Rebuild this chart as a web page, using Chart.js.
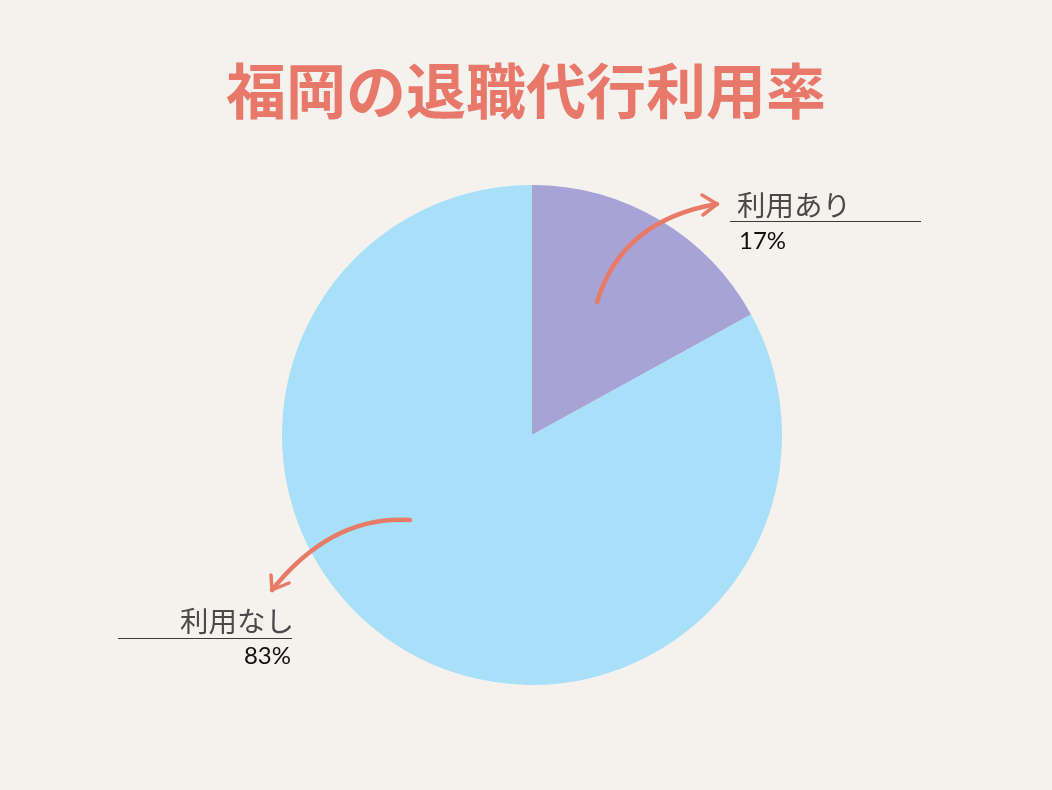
<!DOCTYPE html>
<html lang="ja">
<head>
<meta charset="utf-8">
<script src="https://cdn.jsdelivr.net/npm/chart.js@4"></script>
<style>
  html, body { margin: 0; padding: 0; background: #F5F2EE; }
  #wrap { width: 1052px; height: 790px; position: relative; }
</style>
</head>
<body>
<div id="wrap"><canvas id="c" width="1052" height="790"></canvas></div>
<script>
const titleText = '福岡の退職代行利用率';
const categories = ['利用あり', '利用なし'];
const values = [17, 83];
const valueLabels = ['17%', '83%'];
const colors = ['#A7A3D6', '#A8E0F9'];

const ARROW = '#E87B67';

function drawArrow(ctx, p0, c, p1, wings) {
  ctx.save();
  ctx.strokeStyle = ARROW;
  ctx.lineCap = 'round';
  ctx.lineJoin = 'round';
  ctx.lineWidth = 4.5;
  ctx.beginPath();
  ctx.moveTo(p0[0], p0[1]);
  ctx.quadraticCurveTo(c[0], c[1], p1[0], p1[1]);
  ctx.stroke();
  ctx.lineWidth = 3.5;
  wings.forEach(w => {
    ctx.beginPath();
    ctx.moveTo(p1[0], p1[1]);
    ctx.lineTo(w[0], w[1]);
    ctx.stroke();
  });
  ctx.restore();
}

const annotate = {
  id: 'annotate',
  afterDraw(chart) {
    const ctx = chart.ctx;
    const arc = chart.getDatasetMeta(0).data[0];
    const cx = arc.x, cy = arc.y, r = arc.outerRadius;
    // title
    ctx.save();
    ctx.fillStyle = '#E8796A';
    ctx.font = 'bold 60px "Noto Sans CJK JP"';
    ctx.textAlign = 'center';
    ctx.textBaseline = 'middle';
    ctx.fillText(titleText, cx - 6, cy - 344);
    ctx.restore();

    // arrows (relative to pie centre)
    drawArrow(ctx, [cx + 65, cy - 133], [cx + 90, cy - 215], [cx + 185, cy - 231],
      [[cx + 170, cy - 240], [cx + 171, cy - 220]]);
    drawArrow(ctx, [cx - 122, cy + 85], [cx - 200, cy + 80], [cx - 260, cy + 155],
      [[cx - 261, cy + 140], [cx - 243, cy + 148]]);

    // label lines
    ctx.save();
    ctx.strokeStyle = '#3a3a3a';
    ctx.lineWidth = 1;
    ctx.beginPath();
    ctx.moveTo(cx + 198, cy - 213.5); ctx.lineTo(cx + 389, cy - 213.5);
    ctx.moveTo(cx - 414, cy + 203.5); ctx.lineTo(cx - 240, cy + 203.5);
    ctx.stroke();
    ctx.restore();

    ctx.save();
    ctx.textBaseline = 'alphabetic';
    ctx.fillStyle = '#4a4a4a';
    ctx.font = '28.5px "Noto Sans CJK JP"';
    ctx.textAlign = 'left';
    ctx.fillText(categories[0], cx + 205, cy - 219);
    ctx.textAlign = 'right';
    ctx.fillText(categories[1], cx - 238, cy + 197);
    ctx.fillStyle = '#111';
    ctx.font = '24px Lato';
    ctx.textAlign = 'left';
    ctx.fillText(valueLabels[0], cx + 207, cy - 186);
    ctx.textAlign = 'right';
    ctx.fillText(valueLabels[1], cx - 241, cy + 229);
    ctx.restore();
  }
};

new Chart(document.getElementById('c'), {
  type: 'pie',
  data: {
    labels: categories,
    datasets: [{ data: values, backgroundColor: colors, borderWidth: 0 }]
  },
  options: {
    responsive: false,
    animation: false,
    layout: { padding: { top: 185, bottom: 105, left: 282, right: 270 } },
    plugins: { legend: { display: false }, tooltip: { enabled: false }, title: { display: false } }
  },
  plugins: [annotate]
});
</script>
</body>
</html>
